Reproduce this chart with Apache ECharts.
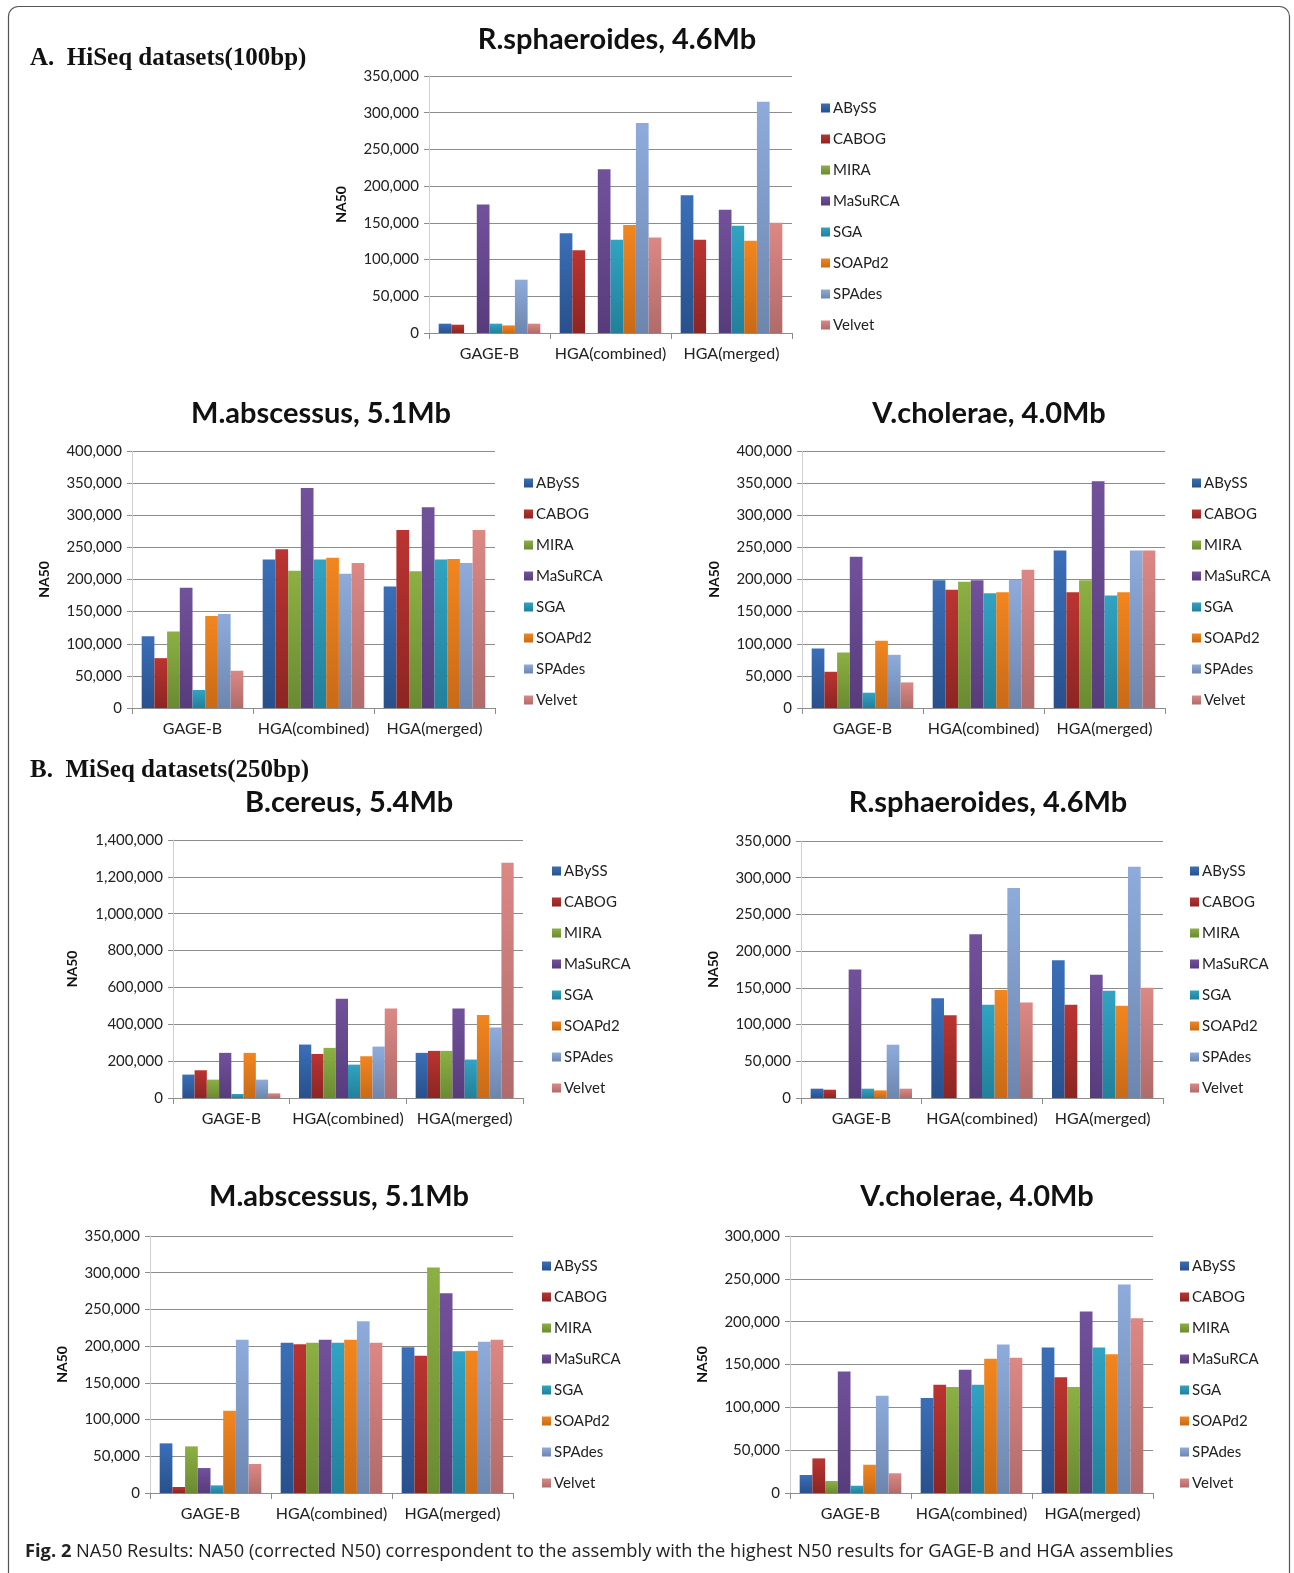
<!DOCTYPE html>
<html>
<head>
<meta charset="utf-8">
<title>NA50 Results</title>
<script src="https://cdn.jsdelivr.net/npm/echarts@6/dist/echarts.min.js"></script>
<style>
  html, body { margin: 0; padding: 0; background: #fff; }
  #main { width: 1294px; height: 1573px; }
</style>
</head>
<body>
<div id="main"></div>
<script>
const categories = ["GAGE-B", "HGA(combined)", "HGA(merged)"];
const assemblers = ["ABySS", "CABOG", "MIRA", "MaSuRCA", "SGA", "SOAPd2", "SPAdes", "Velvet"];

// each row: one assembler, values for GAGE-B / HGA(combined) / HGA(merged)
const hiSeqRsphaeroides = [
  [12700, 136000, 187500],
  [11300, 112600, 127000],
  [0, 0, 0],
  [175000, 222900, 168000],
  [12700, 127000, 146000],
  [10400, 147000, 125700],
  [72600, 286000, 315000],
  [12700, 130000, 150000],
];
const hiSeqMabscessus = [
  [111800, 231000, 189000],
  [77600, 247000, 277000],
  [119000, 213700, 212700],
  [187000, 342600, 312500],
  [28000, 231000, 231000],
  [143000, 234000, 232000],
  [146400, 209000, 225600],
  [58000, 225600, 277000],
];
const hiSeqVcholerae = [
  [92600, 198700, 245000],
  [56400, 184000, 180000],
  [86400, 196600, 198700],
  [235400, 198700, 353000],
  [23800, 178500, 175000],
  [104500, 180000, 180000],
  [82800, 199700, 245000],
  [39800, 215000, 245000],
];
const miSeqBcereus = [
  [127000, 290000, 245000],
  [150500, 239000, 255700],
  [99700, 272000, 255700],
  [245000, 538600, 486000],
  [21800, 181000, 208600],
  [245000, 226700, 449800],
  [99700, 279000, 382700],
  [25400, 486000, 1276700],
];
const miSeqRsphaeroides = [
  [12700, 136000, 187500],
  [11300, 112600, 127000],
  [0, 0, 0],
  [175000, 222900, 168000],
  [12700, 127000, 146000],
  [10400, 147000, 125700],
  [72600, 286000, 315000],
  [12700, 130000, 150000],
];
const miSeqMabscessus = [
  [67600, 204700, 198400],
  [8200, 202500, 187000],
  [63500, 204700, 307000],
  [34000, 208800, 272000],
  [10400, 204700, 193000],
  [112000, 208800, 193800],
  [208800, 234000, 206000],
  [39500, 204700, 208800],
];
const miSeqVcholerae = [
  [21000, 111000, 169800],
  [40400, 126300, 135200],
  [14000, 123600, 123600],
  [141800, 143800, 211800],
  [8500, 126300, 169800],
  [33000, 156600, 162000],
  [113500, 173300, 243300],
  [23000, 157800, 204000],
];

const chartTitles = [
  "R.sphaeroides, 4.6Mb", "M.abscessus, 5.1Mb", "V.cholerae, 4.0Mb",
  "B.cereus, 5.4Mb", "R.sphaeroides, 4.6Mb", "M.abscessus, 5.1Mb", "V.cholerae, 4.0Mb",
];
const yMax = [350000, 400000, 400000, 1400000, 350000, 350000, 300000];
const yStep = [50000, 50000, 50000, 200000, 50000, 50000, 50000];

const panelData = [
  hiSeqRsphaeroides, hiSeqMabscessus, hiSeqVcholerae,
  miSeqBcereus, miSeqRsphaeroides, miSeqMabscessus, miSeqVcholerae,
];

// layout of each panel: plot box, title centre, legend corner
const panels = [
  { left: 429, top: 76, width: 363, height: 257, titleX: 612, titleY: 20, legX: 816, legY: 94 },
  { left: 132, top: 451, width: 363, height: 257, titleX: 316, titleY: 394, legX: 519, legY: 469 },
  { left: 802, top: 451, width: 363, height: 257, titleX: 984, titleY: 394, legX: 1187, legY: 469 },
  { left: 173, top: 840, width: 350, height: 258, titleX: 344, titleY: 783, legX: 547, legY: 857 },
  { left: 801, top: 841, width: 362, height: 257, titleX: 983, titleY: 783, legX: 1185, legY: 857 },
  { left: 150, top: 1236, width: 363, height: 257, titleX: 334, titleY: 1177, legX: 537, legY: 1252 },
  { left: 790, top: 1236, width: 363, height: 257, titleX: 972, titleY: 1177, legX: 1175, legY: 1252 },
];

// excel 2007 style: lighter top, darker bottom
const barColors = [
  ["#3a6fb8", "#28508c"],
  ["#bb3431", "#8c2522"],
  ["#8cb043", "#6a8a32"],
  ["#72519b", "#573c7c"],
  ["#31a3c2", "#22809a"],
  ["#f2861f", "#c96a17"],
  ["#8eabdb", "#6d86ae"],
  ["#dc8885", "#b06b6a"],
];

const FONT = "Lato, 'Open Sans', sans-serif";

function grad(pair) {
  return new echarts.graphic.LinearGradient(0, 0, 0, 1, [
    { offset: 0, color: pair[0] },
    { offset: 1, color: pair[1] },
  ]);
}

const chart = echarts.init(document.getElementById("main"));

const grids = [];
const xAxes = [];
const yAxes = [];
const titles = [];
const legends = [];
const series = [];

panels.forEach((p, i) => {
  grids.push({ left: p.left, top: p.top, width: p.width, height: p.height });
  xAxes.push({
    type: "category",
    gridIndex: i,
    data: categories,
    axisLine: { lineStyle: { color: "#8c8c8c", width: 1 } },
    axisTick: { show: true, length: 6, lineStyle: { color: "#8c8c8c" } },
    axisLabel: {
      interval: 0,
      hideOverlap: false,
      color: "#222",
      fontFamily: FONT,
      fontSize: 16,
      margin: 13,
    },
  });
  yAxes.push({
    type: "value",
    gridIndex: i,
    min: 0,
    max: yMax[i],
    interval: yStep[i],
    name: "NA50",
    nameLocation: "middle",
    nameRotate: 90,
    nameGap: i === 3 ? 94 : 81,
    nameTextStyle: { fontFamily: FONT, fontWeight: "bold", fontSize: 14, color: "#111" },
    axisLine: { show: true, lineStyle: { color: "#cfcfcf" } },
    axisTick: { show: true, length: 5, lineStyle: { color: "#8c8c8c" } },
    axisLabel: {
      color: "#222",
      fontFamily: FONT,
      fontSize: 15,
      margin: 10,
      formatter: (v) => v.toLocaleString("en-US"),
    },
    splitLine: { lineStyle: { color: "#8c8c8c", width: 1 } },
  });
  titles.push({
    text: chartTitles[i],
    left: p.titleX,
    top: p.titleY,
    textAlign: "center",
    textStyle: { fontFamily: FONT, fontWeight: "bold", fontSize: 29, color: "#111" },
  });
  legends.push({
    orient: "vertical",
    left: p.legX,
    top: p.legY,
    itemWidth: 9,
    itemHeight: 9,
    itemGap: 13,
    icon: "rect",
    selectedMode: false,
    data: assemblers,
    textStyle: { fontFamily: FONT, fontSize: 15, color: "#222", padding: [0, 0, 0, -2], lineHeight: 18 },
  });
  panelData[i].forEach((vals, k) => {
    series.push({
      name: assemblers[k],
      type: "bar",
      xAxisIndex: i,
      yAxisIndex: i,
      data: vals,
      barGap: "0%",
      barCategoryGap: "16%",
      itemStyle: { color: grad(barColors[k]) },
      emphasis: { disabled: true },
    });
  });
});

const option = {
  backgroundColor: "#fff",
  animation: false,
  title: titles,
  legend: legends,
  grid: grids,
  xAxis: xAxes,
  yAxis: yAxes,
  series: series,
  graphic: [
    {
      type: "rect",
      shape: { x: 8.5, y: 6.5, width: 1281, height: 1620, r: 10 },
      style: { fill: "none", stroke: "#555", lineWidth: 1.2 },
      silent: true,
    },
    {
      type: "text",
      left: 30,
      top: 46,
      style: {
        text: "A.  HiSeq datasets(100bp)",
        font: "bold 25px 'Liberation Serif', serif",
        fill: "#111",
      },
    },
    {
      type: "text",
      left: 30,
      top: 758,
      style: {
        text: "B.  MiSeq datasets(250bp)",
        font: "bold 25px 'Liberation Serif', serif",
        fill: "#111",
      },
    },
    {
      type: "text",
      left: 25,
      top: 1543,
      style: {
        text: "{b|Fig. 2} NA50 Results: NA50 (corrected N50) correspondent to the assembly with the highest N50 results for GAGE-B and HGA assemblies",
        fontFamily: "'Open Sans', sans-serif",
        fontSize: 18.3,
        fill: "#222",
        rich: { b: { fontWeight: "bold", fontFamily: "'Open Sans', sans-serif", fontSize: 18.3, fill: "#222" } },
      },
    },
  ],
};

chart.setOption(option);
</script>
</body>
</html>
